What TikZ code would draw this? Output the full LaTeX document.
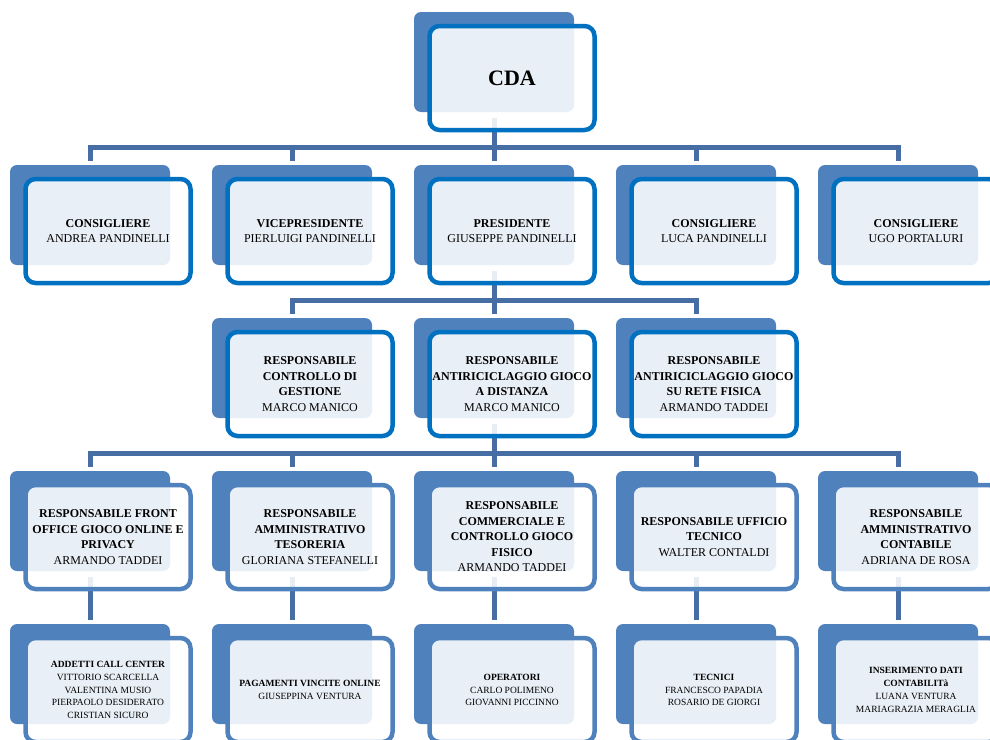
\documentclass[tikz,border=0pt]{standalone}
\usepackage{fontspec}
\setmainfont{Liberation Serif}
\usetikzlibrary{positioning}
\definecolor{backblue}{RGB}{79,129,189}
\definecolor{frameblue}{RGB}{0,112,192}
\definecolor{lineblue}{RGB}{70,110,165}

\begin{document}
\begin{tikzpicture}
		[x=1pt,y=-1pt,
		backnode/.style={rectangle, rounded corners=7pt, fill=backblue, minimum width=160pt, minimum height=100pt, inner sep=0pt, outer sep=0pt},
		topnode/.style={rectangle, rounded corners=10pt, draw=frameblue, line width=4.5pt, fill=white, fill opacity=0.88, text opacity=1, minimum width=165pt, minimum height=104pt, inner sep=0pt, outer sep=0pt, align=center, font=\fontsize{12}{15.5}\selectfont},
		lownode/.style={topnode, draw=backblue},
		smallnode/.style={lownode, font=\fontsize{9.5}{12.8}\selectfont},
		link/.style={draw=lineblue, line width=5pt, shorten <=6pt, shorten >=4pt},
		]
		\clip (0,0) rectangle (990,739);
		
		%Back shapes
		\node[backnode](cda) at (494,62) {};
		\node[backnode](cons1) at (90,215) {};
		\node[backnode](vice) at (292,215) {};
		\node[backnode](pres) at (494,215) {};
		\node[backnode](cons2) at (696,215) {};
		\node[backnode](cons3) at (898,215) {};
		\node[backnode](rcg) at (292,368) {};
		\node[backnode](rad) at (494,368) {};
		\node[backnode](rrf) at (696,368) {};
		\node[backnode](rfo) at (90,521) {};
		\node[backnode](rat) at (292,521) {};
		\node[backnode](rcc) at (494,521) {};
		\node[backnode](ruf) at (696,521) {};
		\node[backnode](rac) at (898,521) {};
		\node[backnode](call) at (90,674) {};
		\node[backnode](pag) at (292,674) {};
		\node[backnode](oper) at (494,674) {};
		\node[backnode](tec) at (696,674) {};
		\node[backnode](ins) at (898,674) {};
		
		%Lines
		\foreach \n in {cons1,vice,pres,cons2,cons3}
			\draw[link](cda.south) -- ++(0,35) -| (\n.north);
		\foreach \n in {rcg,rad,rrf}
			\draw[link](pres.south) -- ++(0,35) -| (\n.north);
		\foreach \n in {rfo,rat,rcc,ruf,rac}
			\draw[link](rad.south) -- ++(0,35) -| (\n.north);
		\draw[link](rfo.south) -- (call.north);
		\draw[link](rat.south) -- (pag.north);
		\draw[link](rcc.south) -- (oper.north);
		\draw[link](ruf.south) -- (tec.north);
		\draw[link](rac.south) -- (ins.north);
		
		%Front boxes
		\node[topnode, font=\fontsize{22}{26}\selectfont](cdatext) at ([shift={(18,16)}]cda.center) {\textbf{CDA}};
		\node[topnode](cons1text) at ([shift={(18,16)}]cons1.center) {\textbf{CONSIGLIERE}\\ANDREA PANDINELLI};
		\node[topnode](vicetext) at ([shift={(18,16)}]vice.center) {\textbf{VICEPRESIDENTE}\\PIERLUIGI PANDINELLI};
		\node[topnode](prestext) at ([shift={(18,16)}]pres.center) {\textbf{PRESIDENTE}\\GIUSEPPE PANDINELLI};
		\node[topnode](cons2text) at ([shift={(18,16)}]cons2.center) {\textbf{CONSIGLIERE}\\LUCA PANDINELLI};
		\node[topnode](cons3text) at ([shift={(18,16)}]cons3.center) {\textbf{CONSIGLIERE}\\UGO PORTALURI};
		\node[topnode](rcgtext) at ([shift={(18,16)}]rcg.center) {\textbf{RESPONSABILE}\\\textbf{CONTROLLO DI}\\\textbf{GESTIONE}\\MARCO MANICO};
		\node[topnode](radtext) at ([shift={(18,16)}]rad.center) {\textbf{RESPONSABILE}\\\textbf{ANTIRICICLAGGIO GIOCO}\\\textbf{A DISTANZA}\\MARCO MANICO};
		\node[topnode](rrftext) at ([shift={(18,16)}]rrf.center) {\textbf{RESPONSABILE}\\\textbf{ANTIRICICLAGGIO GIOCO}\\\textbf{SU RETE FISICA}\\ARMANDO TADDEI};
		\node[lownode](rfotext) at ([shift={(18,16)}]rfo.center) {\textbf{RESPONSABILE FRONT}\\\textbf{OFFICE GIOCO ONLINE E}\\\textbf{PRIVACY}\\ARMANDO TADDEI};
		\node[lownode](rattext) at ([shift={(18,16)}]rat.center) {\textbf{RESPONSABILE}\\\textbf{AMMINISTRATIVO}\\\textbf{TESORERIA}\\GLORIANA STEFANELLI};
		\node[lownode](rcctext) at ([shift={(18,16)}]rcc.center) {\textbf{RESPONSABILE}\\\textbf{COMMERCIALE E}\\\textbf{CONTROLLO GIOCO}\\\textbf{FISICO}\\ARMANDO TADDEI};
		\node[lownode](ruftext) at ([shift={(18,16)}]ruf.center) {\textbf{RESPONSABILE UFFICIO}\\\textbf{TECNICO}\\WALTER CONTALDI};
		\node[lownode](ractext) at ([shift={(18,16)}]rac.center) {\textbf{RESPONSABILE}\\\textbf{AMMINISTRATIVO}\\\textbf{CONTABILE}\\ADRIANA DE ROSA};
		\node[smallnode](calltext) at ([shift={(18,16)}]call.center) {\textbf{ADDETTI CALL CENTER}\\VITTORIO SCARCELLA\\VALENTINA MUSIO\\PIERPAOLO DESIDERATO\\CRISTIAN SICURO};
		\node[smallnode](pagtext) at ([shift={(18,16)}]pag.center) {\textbf{PAGAMENTI VINCITE ONLINE}\\GIUSEPPINA VENTURA};
		\node[smallnode](opertext) at ([shift={(18,16)}]oper.center) {\textbf{OPERATORI}\\CARLO POLIMENO\\GIOVANNI PICCINNO};
		\node[smallnode](tectext) at ([shift={(18,16)}]tec.center) {\textbf{TECNICI}\\FRANCESCO PAPADIA\\ROSARIO DE GIORGI};
		\node[smallnode](instext) at ([shift={(18,16)}]ins.center) {\textbf{INSERIMENTO DATI}\\\textbf{CONTABILITà}\\LUANA VENTURA\\MARIAGRAZIA MERAGLIA};
	\end{tikzpicture}
\end{document}
